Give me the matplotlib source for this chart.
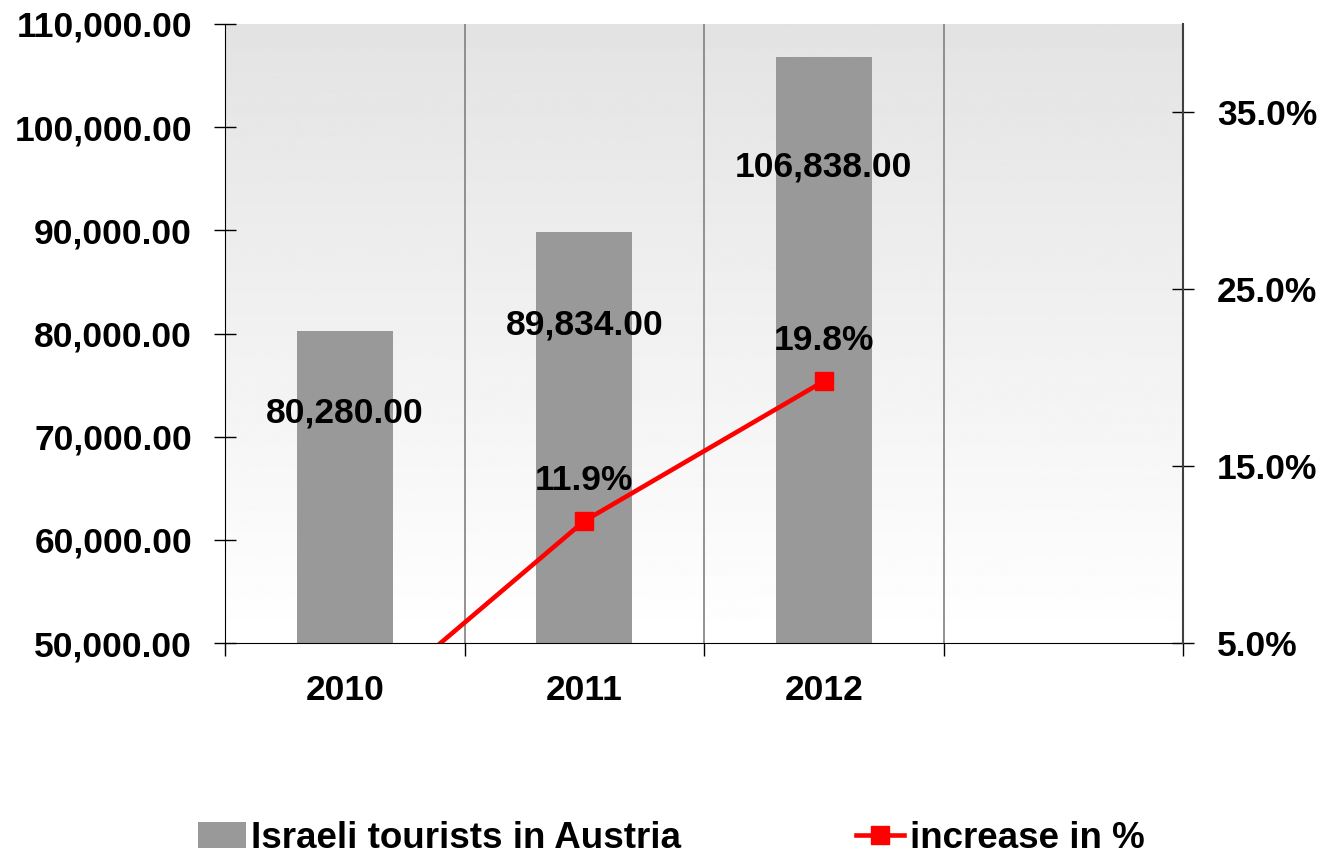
import numpy as np
import matplotlib
matplotlib.use("Agg")
import matplotlib.pyplot as plt
from matplotlib.lines import Line2D
from matplotlib.patches import Patch

plt.rcParams["font.family"] = ["Liberation Sans", "DejaVu Sans"]
plt.rcParams["font.weight"] = "bold"

# data
years = ["2010", "2011", "2012", ""]
tourists = [80280, 89834, 106838]
increase = [0.4, 11.9, 19.8]

bar_color = "#999999"
line_color = "#ff0000"
fs = 25.5

fig = plt.figure(figsize=[13.24, 8.57], dpi=100)
ax = fig.add_axes([0.170, 0.2497, 0.7235, 0.7223])

x = np.arange(len(years))
xb = x[: len(tourists)]

# gradient background, gray at top fading to white
grad = np.linspace(0.89, 1.0, 256).reshape(-1, 1)
ax.imshow(grad, cmap="gray", vmin=0, vmax=1, aspect="auto", origin="upper",
          extent=[0, 1, 0, 1], transform=ax.transAxes, zorder=0)

ax.bar(xb, tourists, width=0.4, color=bar_color, zorder=2)
ax.set_xlim(-0.5, len(years) - 0.5)
ax.set_ylim(50000, 110000)
ax.set_yticks(np.arange(50000, 110001, 10000))
ax.set_yticklabels(["{:,.2f}".format(v) for v in np.arange(50000, 110001, 10000)])

for xi, v in zip(xb, tourists):
    ax.text(xi, v * 0.9, "{:,.2f}".format(v), ha="center", va="center",
            fontsize=fs, fontweight="bold", zorder=5)

# vertical grid at category boundaries
bounds = np.arange(-0.5, len(years), 1.0)
for b in bounds[1:-1]:
    ax.axvline(b, color="#808080", lw=1.2, zorder=1)

ax.set_xticks(x)
ax.set_xticklabels(years)
ax.set_xticks(bounds, minor=True)
ax.tick_params(axis="x", which="major", length=0, pad=22, labelsize=fs)
ax.tick_params(axis="x", which="minor", length=9, width=1, direction="out")
ax.tick_params(axis="y", length=16.5, width=1, direction="inout", pad=15.5,
               labelsize=fs)

for s in ["top", "right"]:
    ax.spines[s].set_visible(False)
ax.spines["left"].set_color("black")
ax.spines["bottom"].set_color("black")

ax2 = ax.twinx()
ax2.plot(xb, increase, color=line_color, lw=3.3, marker="s", markersize=13,
         zorder=4)
ax2.set_ylim(5, 40)
ax2.set_yticks([5, 15, 25, 35])
ax2.set_yticklabels(["{:.1f}%".format(v) for v in [5, 15, 25, 35]])
ax2.tick_params(axis="y", length=16, width=1, direction="inout", pad=16.5,
                labelsize=fs)
for s in ["top", "left", "bottom"]:
    ax2.spines[s].set_visible(False)
ax2.spines["right"].set_color("#404040")
ax2.spines["right"].set_linewidth(1.5)

for xi, v in zip(xb, increase):
    if v >= 5:
        ax2.annotate("{:.1f}%".format(v), (xi, v), xytext=(0, 29),
                     textcoords="offset points", ha="center", va="center",
                     fontsize=fs, fontweight="bold")

handles = [
    Patch(facecolor=bar_color, edgecolor="none"),
    Line2D([], [], color=line_color, lw=3.3, marker="s", markersize=13),
]
fig.legend(handles, ["Israeli tourists in Austria", "increase in %"],
           loc="center", bbox_to_anchor=(0.507, 0.022), ncol=2, frameon=False,
           fontsize=26.5, columnspacing=4.75, handlelength=1.3,
           handletextpad=0.15)

fig.savefig("out.png", dpi=100)
